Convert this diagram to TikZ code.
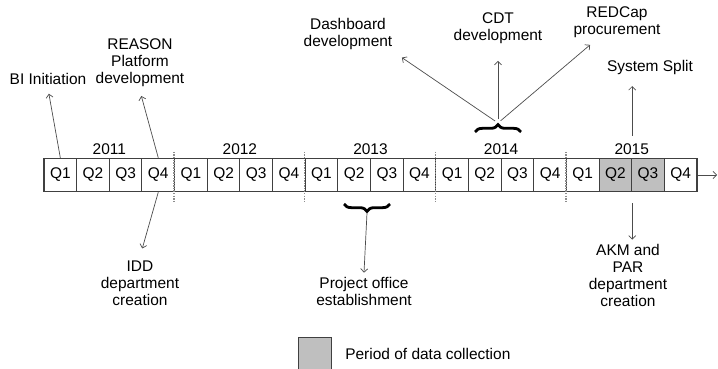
\documentclass[tikz,border=0pt]{standalone}
\usepackage{fontspec}
\setmainfont{Liberation Sans}
\usetikzlibrary{calc, positioning, arrows.meta, decorations.pathreplacing}

\begin{document}
\begin{tikzpicture}[x=0.03cm, y=-0.03cm, >={Straight Barb[length=3pt, width=6pt]},
		every node/.style={font=\fontsize{13.2}{14.5}\selectfont},
		qbox/.style={draw=black!75, line width=0.9pt, minimum width=0.98cm, minimum height=1cm, inner sep=0pt},
		txt/.style={align=center},
		evt/.style={->, draw=black!70, line width=0.6pt, shorten >=0.15cm},
		sep/.style={draw=black!45, densely dotted, line width=1.2pt},
		qbrace/.style={decorate, decoration={brace, amplitude=0.22cm}, line width=2.4pt}]
	\useasboundingbox (0,0) rectangle (718,369);
	\clip (0,0) rectangle (718,369);

	\foreach \yr [count=\n from 0] in {2011,...,2015} {
			\foreach \q in {1,...,4} {
					\def\qfill{white}
					\ifnum\n=4 \ifnum\q>1 \ifnum\q<4 \def\qfill{black!25}\fi\fi\fi
					\node[qbox, fill=\qfill] (q\q-\yr) at ({44+32.65*(4*\n+\q-0.5)}, 175) {Q\q};
				}
			\node (y\yr) at ({44+32.65*(4*\n+2)}, 149) {\yr};
		}
	\foreach \yr in {2012,...,2015}
		\draw[sep] ([yshift=0.18cm]q1-\yr.north west) -- ([yshift=-0.3cm]q1-\yr.south west);

	\node[txt] (bi) at (48,79) {BI Initiation};
	\node[txt] (reason) at (140,63) {REASON\\Platform\\development};
	\node[txt] (idd) at (140,283) {IDD\\department\\creation};
	\node[txt] (dash) at (348,34) {Dashboard\\development};
	\node[txt] (cdt) at (498,28) {CDT\\development};
	\node[txt] (redcap) at (617,22) {REDCap\\procurement};
	\node[txt] (split) at (650,68) {System Split};
	\node[txt] (akm) at (628,275) {AKM and\\PAR\\department\\creation};
	\node[txt] (proj) at (364,291) {Project office\\establishment};

	\draw[evt] (q1-2011.north) -- (bi.south);
	\draw[evt] (q4-2011.north) -- (reason.south);
	\draw[evt, shorten >=0.25cm] (q4-2011.south) -- (idd.north);

	\draw[qbrace] (390,204) -- (344,204);
	\coordinate (tip13) at (367,213);
	\draw[evt, shorten >=0pt] (tip13) -- (proj.north);

	\draw[qbrace] (475,132) -- (521,132);
	\coordinate (tip14) at (498,123);
	\draw[evt, shorten <=3pt, shorten >=0.2cm] (tip14) -- (dash.south east);
	\draw[evt, shorten <=3pt, shorten >=0.4cm] (tip14) -- (cdt);
	\draw[evt, shorten <=3pt] (tip14) -- (redcap);

	\draw[evt, shorten <=0.66cm, shorten >=0.2cm] (q2-2015.north east) -- (q2-2015.north east |- split.south);
	\draw[evt, shorten <=0.33cm, shorten >=0pt] (q2-2015.south east) -- (q2-2015.south east |- akm.north);

	\coordinate (tend) at (717,175);
	\draw[evt, shorten >=0pt] (q4-2015.east) -- (tend);

	\node[qbox, fill=black!25] (legbox) at (315,353.7) {};
	\node[right=0.28cm of legbox] (legtxt) {Period of data collection};
\end{tikzpicture}
\end{document}
